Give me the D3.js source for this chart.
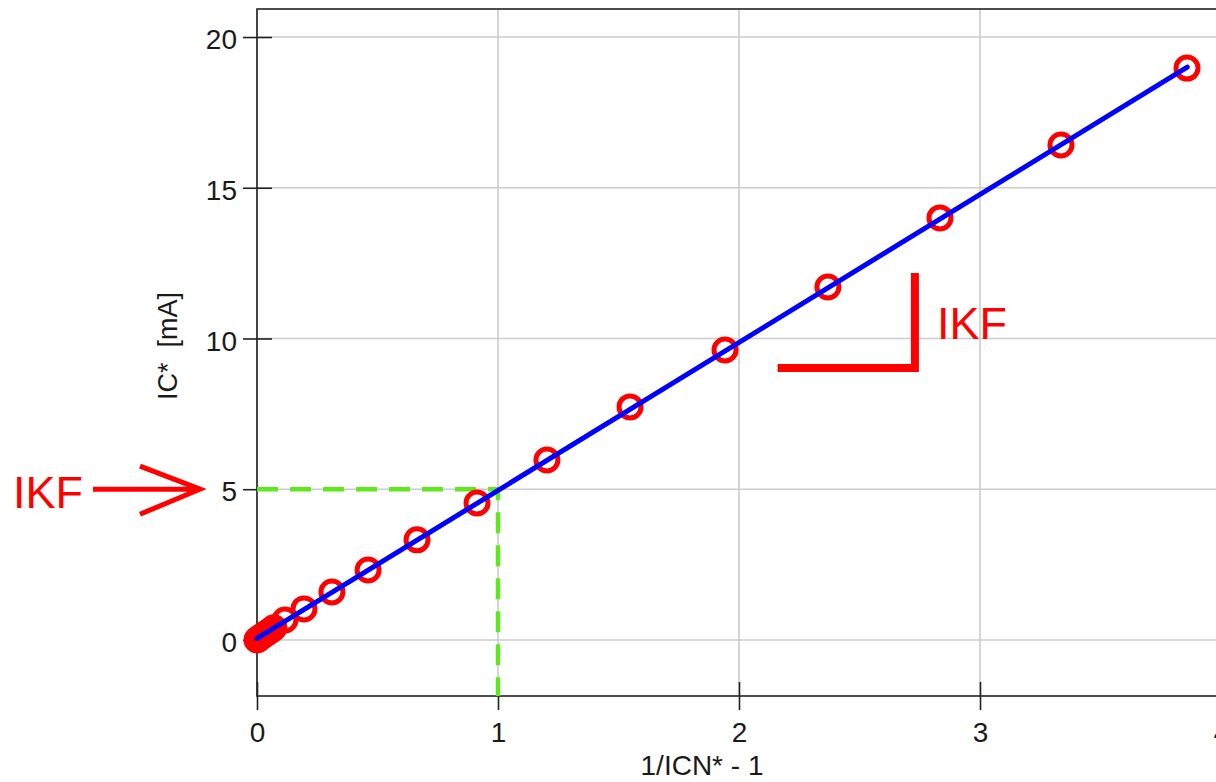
<!DOCTYPE html>
<html>
<head>
<meta charset="utf-8">
<script src="https://cdn.jsdelivr.net/npm/d3@7"></script>
<style>
  body { margin: 0; background: #fff; overflow: hidden; }
  text { font-family: "Liberation Sans", Arial, sans-serif; }
</style>
</head>
<body>
<script>
// Measured points: 1/ICN* - 1 against IC* [mA]
var xValues = [0, 0.004, 0.01, 0.02, 0.03, 0.04, 0.055, 0.07, 0.116, 0.195, 0.311, 0.461, 0.664, 0.913, 1.203, 1.548, 1.942, 2.369, 2.834, 3.336, 3.859];
var yValues = [0, 0.03, 0.06, 0.12, 0.17, 0.23, 0.31, 0.4, 0.66, 1.03, 1.59, 2.32, 3.32, 4.54, 5.97, 7.73, 9.62, 11.71, 14.0, 16.42, 18.97];

// Fitted straight line (end points)
var fitX = [0, 3.86];
var fitY = [0.05, 19.0];

var xTicks = [0, 1, 2, 3, 4];
var yTicks = [0, 5, 10, 15, 20];

var ikfValue = 5;     // IKF read at 1/ICN* - 1 = 1
var ikfAt = 1;

// Slope marker corner (data units)
var slopeX = [2.16, 2.73];
var slopeY = [9.02, 12.17];

var width = 1216, height = 782;
var margin = {top: 9, left: 257, bottom: 696};

var x = d3.scaleLinear().domain([0, 4.1]).range([margin.left, margin.left + 4.1 * 241]);
var y = d3.scaleLinear().domain([-1.86, 20.93]).range([margin.bottom, margin.top]);

var svg = d3.select("body").append("svg")
    .attr("width", width)
    .attr("height", height);

// Grid lines
svg.append("g").selectAll("line.gx")
  .data(xTicks).enter().append("line")
    .attr("x1", d => x(d)).attr("x2", d => x(d))
    .attr("y1", y.range()[1]).attr("y2", y.range()[0])
    .attr("stroke", "#cccccc").attr("stroke-width", 1.6);
svg.append("g").selectAll("line.gy")
  .data(yTicks).enter().append("line")
    .attr("x1", x.range()[0]).attr("x2", x.range()[1])
    .attr("y1", d => y(d)).attr("y2", d => y(d))
    .attr("stroke", "#cccccc").attr("stroke-width", 1.6);

// Frame
svg.append("rect")
    .attr("x", x.range()[0]).attr("y", y.range()[1])
    .attr("width", x.range()[1] - x.range()[0])
    .attr("height", y.range()[0] - y.range()[1])
    .attr("fill", "none").attr("stroke", "#222").attr("stroke-width", 1.6);

// Axes, ticks cross the frame
var xAxis = d3.axisBottom(x).tickValues(xTicks).tickSize(28).tickPadding(12).tickFormat(d3.format("d"));
var gx = svg.append("g")
    .attr("transform", "translate(0," + (y.range()[0] - 14) + ")")
    .call(xAxis);
gx.select(".domain").remove();
gx.selectAll("line").attr("stroke", "#222").attr("stroke-width", 1.6);
gx.selectAll("text").attr("font-size", 28).attr("fill", "#1a1a1a")
    .attr("font-family", "'Liberation Sans', Arial, sans-serif");

var yAxis = d3.axisLeft(y).tickValues(yTicks).tickSize(29).tickPadding(6).tickFormat(d3.format("d"));
var gy = svg.append("g")
    .attr("transform", "translate(" + (x.range()[0] + 15) + ",0)")
    .call(yAxis);
gy.select(".domain").remove();
gy.selectAll("line").attr("stroke", "#222").attr("stroke-width", 1.6);
gy.selectAll("text").attr("font-size", 28).attr("fill", "#1a1a1a").attr("dy", "0.42em")
    .attr("font-family", "'Liberation Sans', Arial, sans-serif");

// Axis titles
svg.append("text")
    .attr("x", 702).attr("y", 775)
    .attr("text-anchor", "middle")
    .attr("font-size", 28).attr("fill", "#1a1a1a")
    .text("1/ICN* - 1");

svg.append("text")
    .attr("transform", "translate(177,346) rotate(-90)")
    .attr("text-anchor", "middle")
    .attr("font-size", 27).attr("fill", "#1a1a1a")
    .style("white-space", "pre")
    .text("IC*  [mA]");

// Green dashed IKF guide
var guide = [[0, ikfValue], [ikfAt, ikfValue], [ikfAt, y.domain()[0]]];
svg.append("path")
    .attr("d", d3.line().x(d => x(d[0])).y(d => y(d[1]))(guide))
    .attr("fill", "none").attr("stroke", "#5fe81e").attr("stroke-width", 4.5)
    .attr("stroke-dasharray", "21,12");

// Data circles
svg.append("g").selectAll("circle")
  .data(xValues).enter().append("circle")
    .attr("cx", (d, i) => x(d))
    .attr("cy", (d, i) => y(yValues[i]))
    .attr("r", 11)
    .attr("fill", "none").attr("stroke", "#ff0000").attr("stroke-width", 5);

// Fit line
svg.append("path")
    .attr("d", d3.line().x(d => x(d)).y((d, i) => y(fitY[i]))(fitX))
    .attr("fill", "none").attr("stroke", "#0000ff").attr("stroke-width", 5)
    .attr("stroke-linecap", "round");

// Slope marker
svg.append("path")
    .attr("d", d3.line().x(d => x(d[0])).y(d => y(d[1]))([
        [slopeX[0], slopeY[0]], [slopeX[1], slopeY[0]], [slopeX[1], slopeY[1]]]))
    .attr("fill", "none").attr("stroke", "#ff0000").attr("stroke-width", 8);
svg.append("text")
    .attr("x", x(slopeX[1]) + 22).attr("y", 339)
    .attr("font-size", 45).attr("fill", "#ff0000")
    .text("IKF");

// IKF arrow on the left
svg.append("text")
    .attr("x", 13).attr("y", 508)
    .attr("font-size", 45).attr("fill", "#ff0000")
    .text("IKF");
var ay = y(ikfValue);
svg.append("path")
    .attr("d", "M93," + ay + "L200," + ay + "M140," + (ay - 23) + "L200," + ay + "L140," + (ay + 25))
    .attr("fill", "none").attr("stroke", "#ff0000").attr("stroke-width", 5);
</script>
</body>
</html>
